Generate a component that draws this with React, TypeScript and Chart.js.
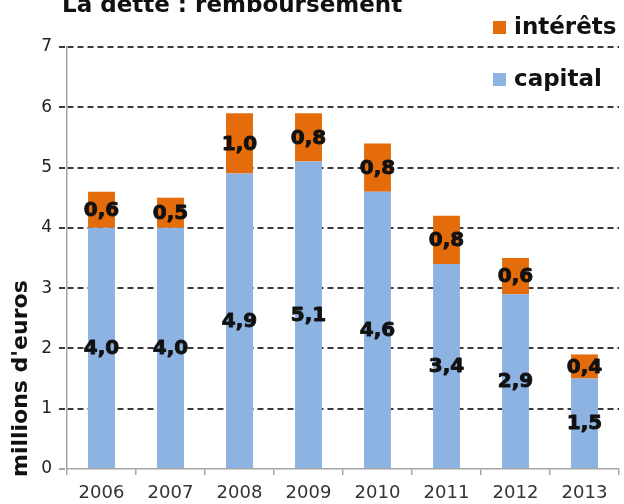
import React, { useEffect, useRef } from "react";
import { Chart, registerables } from "chart.js";

Chart.register(...registerables);

const years = ["2006", "2007", "2008", "2009", "2010", "2011", "2012", "2013"];
const capital = [4.0, 4.0, 4.9, 5.1, 4.6, 3.4, 2.9, 1.5];
const interets = [0.6, 0.5, 1.0, 0.8, 0.8, 0.8, 0.6, 0.4];
const yTicks = [0, 1, 2, 3, 4, 5, 6, 7];
const chartTitle = "La dette : remboursement";
const yAxisTitle = "millions d'euros";

const BLUE = "#8DB3E2";
const ORANGE = "#E46C0A";
const FONT = "'DejaVu Sans', sans-serif";

const fmt = (v: number) => v.toFixed(1).replace(".", ",");

const valueLabels = {
  id: "valueLabels",
  afterDatasetsDraw(chart: any) {
    const ctx = chart.ctx;
    ctx.save();
    ctx.font = `bold 20px ${FONT}`;
    ctx.fillStyle = "#111";
    ctx.strokeStyle = "#111";
    ctx.lineWidth = 0.9;
    ctx.lineJoin = "round";
    ctx.textAlign = "center";
    ctx.textBaseline = "middle";
    chart.data.datasets.forEach((ds: any, di: number) => {
      const meta = chart.getDatasetMeta(di);
      meta.data.forEach((el: any, i: number) => {
        const y = (el.y + el.base) / 2;
        ctx.strokeText(fmt(ds.data[i]), el.x, y + 1);
        ctx.fillText(fmt(ds.data[i]), el.x, y + 1);
      });
    });
    ctx.restore();
  },
};

const titleLegend = {
  id: "titleLegend",
  afterDraw(chart: any) {
    const ctx = chart.ctx;
    ctx.save();
    ctx.fillStyle = "#111";
    ctx.font = `bold 23px ${FONT}`;
    ctx.textAlign = "left";
    ctx.textBaseline = "alphabetic";
    ctx.fillText(chartTitle, 62, 12);

    // y axis title, rotated, starting just below the axis bottom
    const area = chart.chartArea;
    ctx.save();
    ctx.translate(21, area.bottom + 8);
    ctx.rotate(-Math.PI / 2);
    ctx.font = `bold 22px ${FONT}`;
    ctx.textAlign = "left";
    ctx.textBaseline = "middle";
    ctx.fillText(yAxisTitle, 0, 0);
    ctx.restore();

    const items = [...chart.data.datasets].reverse();
    const x0 = area.right - 126;
    ctx.font = `bold 23px ${FONT}`;
    ctx.textBaseline = "middle";
    items.forEach((ds: any, k: number) => {
      const cy = 28 + k * 52;
      ctx.fillStyle = ds.backgroundColor;
      ctx.fillRect(x0, cy - 7, 13, 13);
      ctx.fillStyle = "#111";
      ctx.fillText(ds.label, x0 + 21, cy);
    });
    ctx.restore();
  },
};

export default function App() {
  const ref = useRef<HTMLCanvasElement | null>(null);
  useEffect(() => {
    document.body.style.margin = "0";
    const chart = new Chart(ref.current as HTMLCanvasElement, {
      type: "bar",
      data: {
        labels: years,
        datasets: [
          { label: "capital", data: capital, backgroundColor: BLUE, barPercentage: 0.39, categoryPercentage: 1 },
          { label: "intérêts", data: interets, backgroundColor: ORANGE, barPercentage: 0.39, categoryPercentage: 1 },
        ],
      },
      options: {
        animation: false,
        responsive: false,
        devicePixelRatio: 1,
        layout: { padding: { top: 47, right: 5, bottom: 0, left: 0 } },
        plugins: { legend: { display: false }, title: { display: false }, tooltip: { enabled: false } },
        scales: {
          x: {
            stacked: true,
            afterFit: (s: any) => { s.height = 35; },
            grid: { display: true, drawOnChartArea: false, offset: true, tickLength: 6, color: "#A6A6A6", lineWidth: 1.5 },
            border: { display: true, color: "#A6A6A6", width: 1.5 },
            ticks: { color: "#333", font: { family: FONT, size: 18 }, padding: 8 },
          },
          y: {
            stacked: true,
            min: 0,
            max: 7,
            afterFit: (s: any) => { s.width = 67; },
            afterBuildTicks: (s: any) => { s.ticks = yTicks.map((v) => ({ value: v })); },
            grid: {
              color: (c: any) => (c.tick && c.tick.value === 0 ? "rgba(0,0,0,0)" : "#3a3a3a"),
              lineWidth: 2,
              tickLength: 8,
              tickColor: (c: any) => (c.tick && c.tick.value === 0 ? "#A6A6A6" : "#3a3a3a"),
              tickBorderDash: [6, 4],
            },
            border: { display: true, color: "#A6A6A6", width: 1.5, dash: [6, 4] },
            ticks: { color: "#222", font: { family: FONT, size: 17 }, padding: 7 },
            title: { display: false },
          },
        },
      },
      plugins: [valueLabels, titleLegend],
    } as any);
    return () => chart.destroy();
  }, []);
  return (
    <div style={{ position: "fixed", left: 0, top: 0, width: 624, height: 504, background: "#fff" }}>
      <canvas ref={ref} width={624} height={504} />
    </div>
  );
}
